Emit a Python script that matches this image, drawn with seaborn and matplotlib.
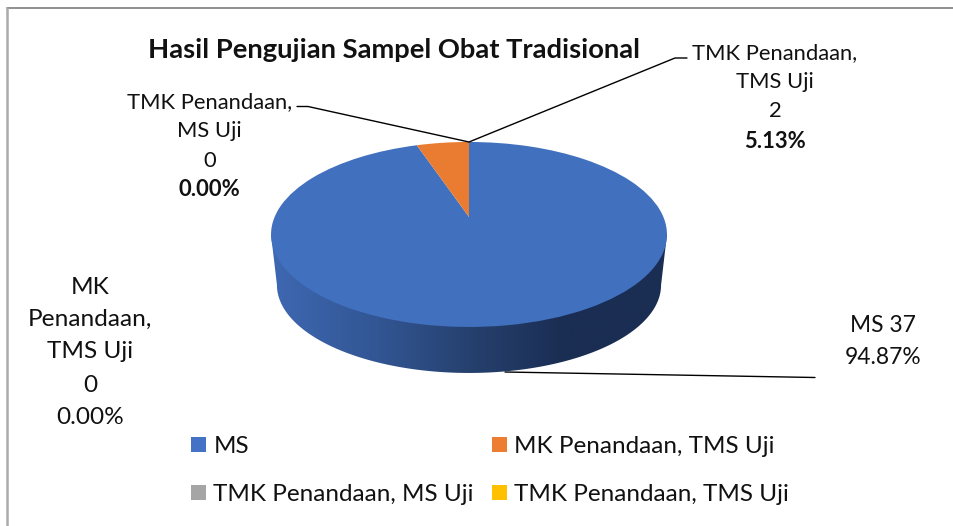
## Importing necessary libraries:
import numpy as np
import matplotlib
matplotlib.use('Agg')
import matplotlib.pyplot as plt
from matplotlib.colors import LinearSegmentedColormap
from matplotlib.patches import Patch, Polygon
from matplotlib.transforms import Transform
import seaborn as sns

## Chart data:
categories = ['MS', 'MK Penandaan, TMS Uji', 'TMK Penandaan, MS Uji', 'TMK Penandaan, TMS Uji']
values = [37, 0, 0, 2]
percents = ['94.87%', '0.00%', '0.00%', '5.13%']
legend_colors = ['#4472C4', '#ED7D31', '#A5A5A5', '#FFC000']
# the 2 samples are orange in the picture even though the legend says yellow
slice_colors = ['#4170BE', '#ED7D31', '#A5A5A5', '#E97C30']
wall_colors = ['#3E68B2', '#335796', '#26416F', '#1A2D52', '#1A2D52']

sns.set_theme(style='white')
plt.rcParams['font.family'] = ['Lato', 'DejaVu Sans']
TEXT = '#111111'


## Perspective of the pie top (the far edge comes out smaller):
class Tilt(Transform):
    input_dims = 2
    output_dims = 2

    def __init__(self, half_w=194.4, half_h=89.2, cx=469, cy=217, k=0.189):
        super().__init__()
        self.half_w, self.half_h, self.cx, self.cy, self.k = half_w, half_h, cx, cy, k

    def transform_non_affine(self, values):
        values = np.asarray(values)
        w = 1 + self.k * values[:, 1]
        return np.column_stack([self.cx + self.half_w * values[:, 0] / w,
                                self.cy - self.half_h * values[:, 1] / w])


fig = plt.figure(figsize=(9.54, 5.26), dpi=100)
ax = fig.add_axes([0, 0, 1, 1])

## Pie top:
top = Tilt()
wedges, _ = ax.pie(values, colors=slice_colors, startangle=90, counterclock=False,
                   wedgeprops={'linewidth': 0})
for wedge in wedges:
    wedge.set_transform(top + ax.transData)
    wedge.set_zorder(3)

## Side wall, a gradient clipped to the outline down to the base disc:
base = Tilt(half_w=188.6, half_h=84.8, cy=268.4)
d = np.arcsin(top.k)
t = np.linspace(np.pi + d, 2 * np.pi - d, 200)
base_edge = base.transform_non_affine(np.column_stack([np.cos(t), np.sin(t)]))
top_ends = top.transform_non_affine(np.array([[np.cos(t[0]), np.sin(t[0])],
                                              [np.cos(t[-1]), np.sin(t[-1])]]))
outline = np.vstack([top_ends[:1], base_edge, top_ends[1:]])
wall_cmap = LinearSegmentedColormap.from_list('wall', wall_colors)
wall = ax.imshow(np.linspace(0, 1, 256).reshape(1, -1), cmap=wall_cmap, aspect='auto',
                 extent=(271, 667, 380, 230), zorder=2)
clip = Polygon(outline, closed=True, transform=ax.transData, facecolor='none', edgecolor='none')
ax.add_patch(clip)
wall.set_clip_path(clip)

## Leader lines:
ax.plot([297, 308, 469, 675, 687], [106.5, 106.5, 142, 58, 58], color='black', lw=1, zorder=4)
ax.plot([505, 815], [372, 377.5], color='black', lw=1, zorder=1)

## Data labels, one line at a time since some lines are bold:
ax.text(394, 50, 'Hasil Pengujian Sampel Obat Tradisional', fontsize=19.7, fontweight='bold',
        color=TEXT, ha='center', va='center')
label_blocks = [
    (883, 16.4, [325, 358], ['MS %d' % values[0], percents[0]], [False, False]),
    (90, 17.6, [288, 319, 351, 385, 418], ['MK', 'Penandaan,', 'TMS Uji', str(values[1]), percents[1]],
     [False] * 5),
    (209.5, 15.8, [102, 131, 161, 190], ['TMK Penandaan,', 'MS Uji', str(values[2]), percents[2]],
     [False, False, False, True]),
    (775, 15.8, [53, 82, 111, 141], ['TMK Penandaan,', 'TMS Uji', str(values[3]), percents[3]],
     [False, False, False, True]),
]
for x, size, ys, lines, bolds in label_blocks:
    for y, line, bold in zip(ys, lines, bolds):
        ax.text(x, y, line, fontsize=size, color=TEXT, ha='center', va='center',
                fontweight='bold' if bold else 'normal')

## Legend:
handles = [Patch(facecolor=c, edgecolor='none', label=n) for c, n in zip(legend_colors, categories)]
ax.legend(handles=[handles[0], handles[2], handles[1], handles[3]], ncol=2, frameon=False,
          loc='upper left', bbox_to_anchor=(191 / 954, 1 - 436 / 526), borderaxespad=0, borderpad=0,
          fontsize=17.5, labelcolor=TEXT, handlelength=0.62, handleheight=0.62,
          handletextpad=0.3, labelspacing=1.11, columnspacing=0.75)

## Chart frame, only top and left show in the picture:
ax.plot([7, 954], [8, 8], color='#8F8F8F', lw=1.4, zorder=1)
ax.plot([7.5, 7.5], [8, 526], color='#ABABAB', lw=1.8, zorder=1)

ax.set_aspect('auto')
ax.set_xlim(0, 954)
ax.set_ylim(526, 0)
ax.axis('off')

fig.savefig('out.png', dpi=100)
